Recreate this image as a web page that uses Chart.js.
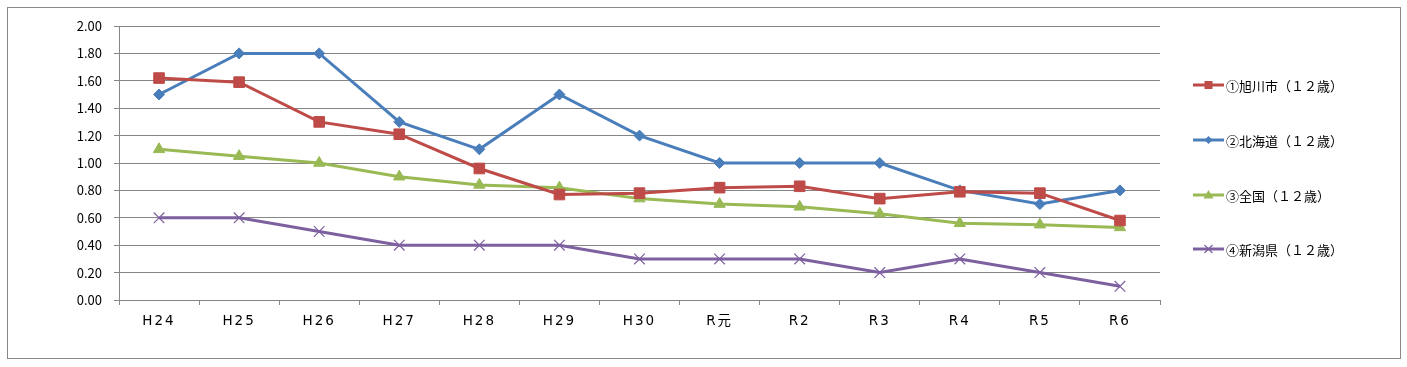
<!DOCTYPE html>
<html><head><meta charset="utf-8">
<script src="https://cdn.jsdelivr.net/npm/chart.js@4/dist/chart.umd.min.js"></script>
<style>html,body{margin:0;padding:0;background:#fff}#wrap{width:1407px;height:367px;position:relative}</style>
</head><body><div id="wrap"><canvas id="c" width="1407" height="367"></canvas></div>
<script>
const categories = ["H24","H25","H26","H27","H28","H29","H30","R元","R2","R3","R4","R5","R6"];
const asahikawa = [1.62,1.59,1.30,1.21,0.96,0.77,0.78,0.82,0.83,0.74,0.79,0.78,0.58];
const hokkaido  = [1.50,1.80,1.80,1.30,1.10,1.50,1.20,1.00,1.00,1.00,0.80,0.70,0.80];
const zenkoku   = [1.10,1.05,1.00,0.90,0.84,0.82,0.74,0.70,0.68,0.63,0.56,0.55,0.53];
const niigata   = [0.60,0.60,0.50,0.40,0.40,0.40,0.30,0.30,0.30,0.20,0.30,0.20,0.10];
const seriesNames = ["①旭川市（１２歳）","②北海道（１２歳）","③全国（１２歳）","④新潟県（１２歳）"];
const yTicks = [0,0.2,0.4,0.6,0.8,1.0,1.2,1.4,1.6,1.8,2.0];

const FONT = "'Noto Sans CJK JP','DejaVu Sans',sans-serif";
const XFONT = "'DejaVu Sans','Noto Sans CJK JP',sans-serif";
const styles = [
  {c:'#BE4B48', ps:'rect', r:7.5, bw:1, lr:4},
  {c:'#4A7EBB', ps:'rectRot', r:5.5, bw:1, lr:4},
  {c:'#98B954', ps:'triangle', r:6.5, bw:1, lr:5},
  {c:'#7D60A0', ps:'crossRot', r:7.5, bw:1.2, lr:5}
];
const dataArr = [asahikawa, hokkaido, zenkoku, niigata];
const datasets = dataArr.map((d,i)=>({
  label: seriesNames[i], data: d,
  borderColor: styles[i].c, backgroundColor: styles[i].c,
  borderWidth: 3, pointStyle: styles[i].ps, pointRadius: styles[i].r,
  pointBorderWidth: styles[i].bw, pointBorderColor: styles[i].c, pointBackgroundColor: styles[i].c,
  tension: 0
}));

const framePlugin = {
  id:'frame',
  afterLayout(chart){
    const s = chart.scales.x;
    if(!s._spaced){
      s._spaced = true;
      s.drawLabels = function(ca){
        this.ctx.save();
        this.ctx.letterSpacing = '2px';
        Object.getPrototypeOf(this).drawLabels.call(this, ca);
        this.ctx.restore();
      };
    }
  },
  beforeDraw(chart){
    const ctx = chart.ctx;
    ctx.save();
    ctx.fillStyle='#fff'; ctx.fillRect(0,0,chart.width,chart.height);
    ctx.strokeStyle='#888'; ctx.lineWidth=1;
    ctx.strokeRect(7.5,7.5,1393,351);
    ctx.restore();
  },
  afterDraw(chart){
    const ctx = chart.ctx;
    ctx.save();
    const ys=[85,140,195,249];
    chart.data.datasets.forEach((ds,i)=>{
      const y=ys[i];
      ctx.strokeStyle=ds.borderColor; ctx.lineWidth=3;
      ctx.beginPath(); ctx.moveTo(1193,y); ctx.lineTo(1224,y); ctx.stroke();
      const r = styles[i].lr;
      ctx.fillStyle=ds.borderColor; ctx.lineWidth=1.2;
      const x=1208.5;
      ctx.beginPath();
      if(ds.pointStyle==='rect'){ ctx.fillRect(x-r,y-r,2*r,2*r); }
      else if(ds.pointStyle==='rectRot'){ ctx.moveTo(x,y-r);ctx.lineTo(x+r,y);ctx.lineTo(x,y+r);ctx.lineTo(x-r,y);ctx.closePath();ctx.fill(); }
      else if(ds.pointStyle==='triangle'){ ctx.moveTo(x,y-r);ctx.lineTo(x+r,y+r*0.7);ctx.lineTo(x-r,y+r*0.7);ctx.closePath();ctx.fill(); }
      else { const k=r*0.8; ctx.moveTo(x-k,y-k);ctx.lineTo(x+k,y+k);ctx.moveTo(x+k,y-k);ctx.lineTo(x-k,y+k);ctx.stroke(); }
      ctx.fillStyle='#000'; ctx.font='13px '+FONT; ctx.textBaseline='middle'; ctx.textAlign='left';
      ctx.fillText(ds.label,1226,y+1);
    });
    ctx.restore();
  }
};

new Chart(document.getElementById('c'),{
  type:'line',
  data:{labels:categories, datasets},
  plugins:[framePlugin],
  options:{
    responsive:false, animation:false, devicePixelRatio:1,
    layout:{padding:{left:0,top:26,right:247,bottom:0}},
    plugins:{legend:{display:false},tooltip:{enabled:false}},
    scales:{
      x:{
        offset:true,
        grid:{display:true,drawOnChartArea:false,drawTicks:true,tickLength:5,offset:true,color:'#868686'},
        border:{display:true,color:'#868686',width:1},
        ticks:{color:'#000',font:{family:XFONT,size:13.5},padding:8,maxRotation:0},
        afterFit(s){ s.height=67; }
      },
      y:{
        min:0,max:2,
        afterBuildTicks(s){ s.ticks = yTicks.map(v=>({value:v})); },
        grid:{color:'#868686',lineWidth:1,tickLength:5,drawTicks:true},
        border:{display:true,color:'#868686',width:1},
        ticks:{color:'#000',font:{family:FONT,size:13},padding:12,callback:v=>Number(v).toFixed(2)},
        afterFit(s){ s.width=119; }
      }
    }
  }
});
</script></body></html>
